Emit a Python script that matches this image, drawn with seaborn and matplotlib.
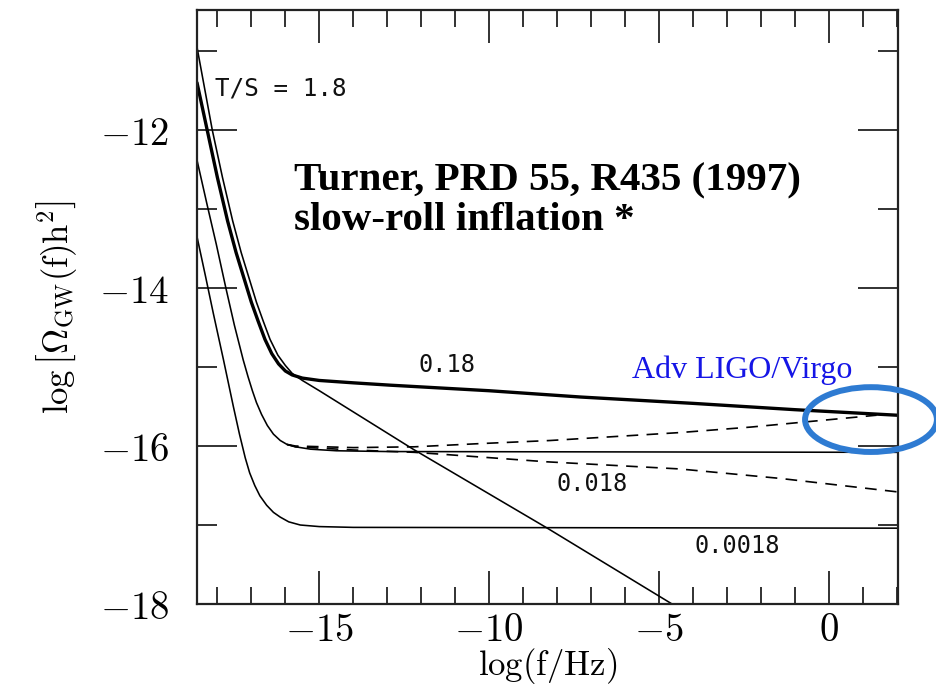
import matplotlib
matplotlib.use("Agg")
import matplotlib.pyplot as plt
import seaborn as sns
from matplotlib.patches import Ellipse
from matplotlib.ticker import MultipleLocator, FuncFormatter

# ---- data (log f/Hz, log Omega h^2) ----
ts_1p8_x = [-18.6, -18.15, -17.85, -17.55, -17.3, -17.05, -16.85, -16.65, -16.45, -16.22,
            -16.0, -15.8, -15.5, -15.0, -12.24, -8.29, -4.62, -4.0]
ts_1p8_y = [-10.95, -12.0, -12.6, -13.15, -13.55, -13.9, -14.18, -14.42, -14.65, -14.85,
            -14.98, -15.08, -15.17, -15.3, -16.04, -17.04, -18.0, -18.16]

ts_0p18_x = [-18.6, -18.3, -18.0, -17.7, -17.45, -17.2, -17.0, -16.8, -16.6, -16.4, -16.2,
             -16.0, -15.8, -15.5, -15.0, -14.0, -12.9, -10.0, -7.3, -4.0, -1.0, 2.0]
ts_0p18_y = [-11.4, -12.0, -12.6, -13.15, -13.55, -13.9, -14.18, -14.42, -14.65, -14.83, -14.96,
             -15.05, -15.1, -15.14, -15.17, -15.2, -15.23, -15.30, -15.38, -15.46, -15.54, -15.61]

ts_0p018_x = [-18.6, -18.3, -18.03, -17.75, -17.5, -17.24, -17.1, -16.97, -16.85, -16.7, -16.53,
              -16.35, -16.15, -15.95, -15.7, -15.26, -14.5, -13.0, 2.0]
ts_0p018_y = [-12.38, -12.95, -13.45, -14.0, -14.47, -14.91, -15.12, -15.3, -15.45, -15.6, -15.74,
              -15.85, -15.93, -15.98, -16.01, -16.04, -16.06, -16.07, -16.08]

ts_0p018_up_x = [-15.95, -15.7, -14.0, -12.2, -10.3, -8.2, -4.4, -2.3, 1.4]
ts_0p018_up_y = [-15.98, -16.0, -16.02, -16.01, -15.97, -15.93, -15.83, -15.76, -15.61]

ts_0p018_dn_x = [-15.95, -15.7, -14.0, -12.2, -11.2, -8.3, -4.4, -1.44, 2.0]
ts_0p018_dn_y = [-15.98, -16.01, -16.05, -16.08, -16.11, -16.2, -16.29, -16.41, -16.58]

ts_0p0018_x = [-18.6, -18.35, -18.12, -17.82, -17.53, -17.35, -17.18, -17.05, -16.9, -16.75,
               -16.55, -16.35, -16.15, -15.9, -15.56, -15.0, -14.0, 2.0]
ts_0p0018_y = [-13.35, -13.85, -14.32, -14.91, -15.5, -15.85, -16.15, -16.34, -16.5, -16.63,
               -16.75, -16.84, -16.9, -16.96, -17.0, -17.02, -17.03, -17.04]

curve_labels = ["T/S = 1.8", "0.18", "0.018", "0.0018"]
label_x = [-18.06, -11.24, -6.97, -2.71]
label_y = [-11.48, -14.97, -16.48, -17.27]

# ---- style ----
sns.set_theme(style="ticks")
plt.rcParams["font.family"] = ["DejaVu Sans"]
plt.rcParams["mathtext.fontset"] = "cm"
plt.rcParams["text.color"] = "black"
plt.rcParams["axes.labelcolor"] = "black"

fig = plt.figure(figsize=(9.37, 6.89), dpi=100)
ax = fig.add_axes([197 / 937, 1 - 604 / 689, 701 / 937, 594 / 689])

thin = 1.15
dash = (0, (7, 5))
sns.lineplot(x=ts_1p8_x, y=ts_1p8_y, ax=ax, color="black", lw=thin, sort=False, estimator=None)
sns.lineplot(x=ts_0p18_x, y=ts_0p18_y, ax=ax, color="black", lw=2.4, sort=False, estimator=None)
sns.lineplot(x=ts_0p018_x, y=ts_0p018_y, ax=ax, color="black", lw=thin, sort=False, estimator=None)
sns.lineplot(x=ts_0p018_up_x, y=ts_0p018_up_y, ax=ax, color="black", lw=1.2, sort=False,
             estimator=None, linestyle=dash)
sns.lineplot(x=ts_0p018_dn_x, y=ts_0p018_dn_y, ax=ax, color="black", lw=1.2, sort=False,
             estimator=None, linestyle=dash)
sns.lineplot(x=ts_0p0018_x, y=ts_0p0018_y, ax=ax, color="black", lw=thin, sort=False, estimator=None)

ax.set_xlim(-18.6, 2.03)
ax.set_ylim(-18.0, -10.48)

ax.xaxis.set_major_locator(MultipleLocator(5))
ax.xaxis.set_minor_locator(MultipleLocator(1))
ax.yaxis.set_major_locator(MultipleLocator(2))
ax.yaxis.set_minor_locator(MultipleLocator(1))
fmt = FuncFormatter(lambda v, p: r"$%d$" % round(v))
ax.xaxis.set_major_formatter(fmt)
ax.yaxis.set_major_formatter(fmt)

ax.tick_params(which="both", direction="in", top=True, right=True, color="#222222",
               width=1.3, labelcolor="black")
ax.tick_params(axis="x", which="major", length=24, pad=5, labelsize=28)
ax.tick_params(axis="x", which="minor", length=12)
ax.tick_params(axis="y", which="major", length=29, pad=20, labelsize=28)
ax.tick_params(axis="y", which="minor", length=14.5)
for s in ax.spines.values():
    s.set_linewidth(1.6)
    s.set_color("#222222")

ax.set_xlabel(r"$\log(\mathrm{f/Hz})$", fontsize=25)
ax.set_ylabel(r"$\log\left[\Omega_{\rm GW}(\mathrm{f})\mathrm{h}^2\right]$", fontsize=25)
ax.xaxis.set_label_coords(0.5, -0.071)
ax.yaxis.set_label_coords(-0.168, 0.5)

for t, x, y in zip(curve_labels, label_x, label_y):
    ha = "left" if t.startswith("T/S") else "center"
    ax.text(x, y, t, ha=ha, va="center", fontsize=17.5 if ha == "left" else 17,
            family="DejaVu Sans Mono", color="#111111")

ax.text(-15.76, -12.76, "Turner, PRD 55, R435 (1997)", fontsize=29.5, fontweight="bold",
        family="Liberation Serif", va="baseline", ha="left", color="black")
ax.text(-15.76, -13.27, "slow-roll inflation *", fontsize=29.5, fontweight="bold",
        family="Liberation Serif", va="baseline", ha="left", color="black")
ax.text(-5.79, -15.14, "Adv LIGO/Virgo", fontsize=23, family="Liberation Serif",
        color="#1515E6", va="baseline", ha="left")

ax.add_patch(Ellipse((1.235, -15.665), width=3.88, height=0.82, fill=False,
                     edgecolor="#2E7BD2", lw=4.3, clip_on=False, zorder=5))

fig.savefig("out.png", dpi=100)
